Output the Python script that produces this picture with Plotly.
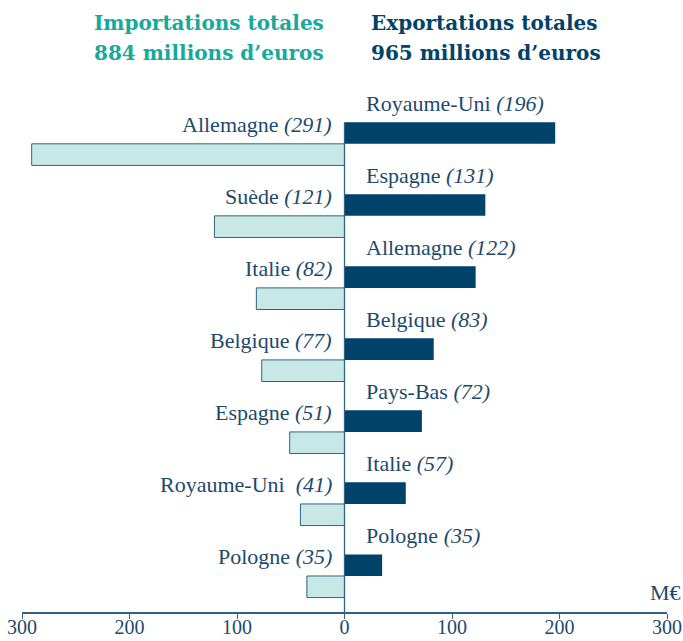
import plotly.graph_objects as go

# Data
import_countries = ["Allemagne", "Suède", "Italie", "Belgique", "Espagne", "Royaume-Uni ", "Pologne"]
import_values = [291, 121, 82, 77, 51, 41, 35]
export_countries = ["Royaume-Uni", "Espagne", "Allemagne", "Belgique", "Pays-Bas", "Italie", "Pologne"]
export_values = [196, 131, 122, 83, 72, 57, 35]
import_title = ["Importations totales", "884 millions d’euros"]
export_title = ["Exportations totales", "965 millions d’euros"]
tick_vals = [-300, -200, -100, 0, 100, 200, 300]
tick_text = ["300", "200", "100", "0", "100", "200", "300"]
unit_label = "M€"

NAVY = "#00436a"
TEXT = "#1d4a6c"
TEAL = "#17a99a"
LIGHT = "#c8e8e6"
AXIS = "#2f6382"
FONT = "'Liberation Serif', 'Times New Roman', serif"
TFONT = "'DejaVu Serif', serif"

pos = list(range(len(import_countries)))
bw = 0.3

fig = go.Figure()
fig.add_trace(go.Bar(
    x=export_values, y=pos, orientation="h", width=bw, offset=-bw,
    marker=dict(color=NAVY, line=dict(width=0)), hoverinfo="skip"))
fig.add_trace(go.Bar(
    x=[-v for v in import_values], y=pos, orientation="h", width=bw, offset=0,
    marker=dict(color=LIGHT, line=dict(color=AXIS, width=1)), hoverinfo="skip"))

ann = []
for k, (c, v) in enumerate(zip(export_countries, export_values)):
    ann.append(dict(x=0, y=k - 0.56, xref="x", yref="y", xanchor="left", yanchor="middle",
                    xshift=19, text=f"{c} <i>({v})</i>", showarrow=False,
                    font=dict(family=FONT, size=22, color=TEXT)))
for k, (c, v) in enumerate(zip(import_countries, import_values)):
    ann.append(dict(x=0, y=k - 0.27, xref="x", yref="y", xanchor="right", yanchor="middle",
                    xshift=-11, text=f"{c} <i>({v})</i>", showarrow=False,
                    font=dict(family=FONT, size=22, color=TEXT)))

W, H = 683, 641
ML, MR, MT, MB = 22, 16, 79, 29
pw, ph = W - ML - MR, H - MT - MB

def px(xp, yp):
    return (xp - ML) / pw, (H - yp - MB) / ph

for txt, xp, yp, anchor, col in [
    (import_title[0], 326, 23, "right", TEAL),
    (import_title[1], 326, 53, "right", TEAL),
    (export_title[0], 369, 23, "left", NAVY),
    (export_title[1], 369, 53, "left", NAVY),
]:
    xx, yy = px(xp, yp)
    ann.append(dict(x=xx, y=yy, xref="paper", yref="paper", text="<b>" + txt + "</b>",
                    showarrow=False, xanchor=anchor, yanchor="middle",
                    font=dict(family=TFONT, size=20, color=col)))

xx, yy = px(683, 592)
ann.append(dict(x=xx, y=yy, xref="paper", yref="paper", xanchor="right", yanchor="middle",
                text=unit_label, showarrow=False,
                font=dict(family=FONT, size=22, color=TEXT)))

fig.add_shape(type="line", xref="x", yref="y", x0=0, x1=0, y0=-0.3, y1=6.5,
              line=dict(color=AXIS, width=1.3))

fig.update_layout(
    width=W, height=H,
    margin=dict(l=ML, r=MR, t=MT, b=MB, autoexpand=False),
    paper_bgcolor="white", plot_bgcolor="white",
    showlegend=False, barmode="overlay",
    annotations=ann,
    xaxis=dict(range=[-300, 300], tickvals=tick_vals, ticktext=tick_text, automargin=False,
               showgrid=False, zeroline=False, showline=True, linecolor=AXIS, linewidth=2,
               ticks="outside", ticklen=5, tickcolor=AXIS, tickwidth=1.3,
               ticklabeloverflow="allow", ticklabelstandoff=-9,
               tickfont=dict(family=FONT, size=20, color=TEXT), fixedrange=True),
    yaxis=dict(range=[6.5, -0.9], showgrid=False, zeroline=False, showticklabels=False,
               showline=False, fixedrange=True, automargin=False),
)

fig.write_html("out.html", config={"displayModeBar": False},
               post_script="document.body.style.margin='0';")
